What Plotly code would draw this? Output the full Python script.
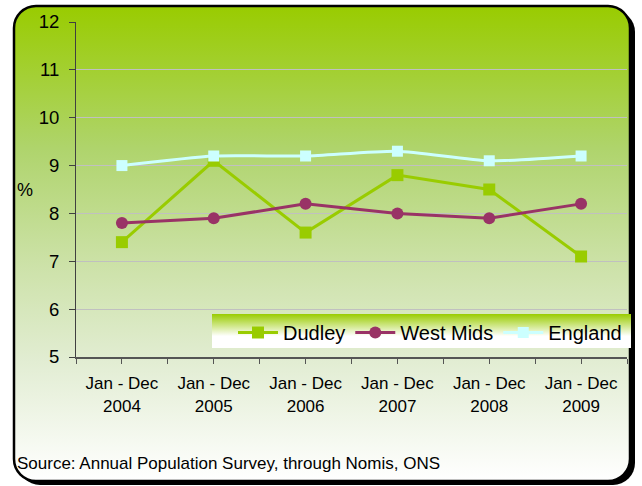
import base64
import plotly.graph_objects as go

# ---- data ----
periods = ["Jan - Dec<br>2004", "Jan - Dec<br>2005", "Jan - Dec<br>2006",
           "Jan - Dec<br>2007", "Jan - Dec<br>2008", "Jan - Dec<br>2009"]
x_pos = [0, 1, 2, 3, 4, 5]
dudley = [7.4, 9.1, 7.6, 8.8, 8.5, 7.1]
west_mids = [7.8, 7.9, 8.2, 8.0, 7.9, 8.2]
england = [9.0, 9.2, 9.2, 9.3, 9.1, 9.2]
y_ticks = [5, 6, 7, 8, 9, 10, 11, 12]
source_text = "Source: Annual Population Survey, through Nomis, ONS"

W, H = 642, 486
ML, MR, MT, MB = 76, 15, 22, 129
PW, PH = W - ML - MR, H - MT - MB

FONT = "Arial, Liberation Sans, sans-serif"


def px_to_paper_x(p):
    return (p - ML) / PW


def px_to_paper_y(p):
    return (H - MB - p) / PH


def svg_uri(svg):
    return "data:image/svg+xml;base64," + base64.b64encode(svg.encode()).decode()


bg_svg = f"""<svg xmlns='http://www.w3.org/2000/svg' width='{W}' height='{H}' viewBox='0 0 {W} {H}'>
<defs><linearGradient id='g' x1='0' y1='0' x2='0' y2='1'>
<stop offset='0' stop-color='#99CC00'/>
<stop offset='0.3' stop-color='#AFD46C'/>
<stop offset='0.55' stop-color='#CDE2A9'/>
<stop offset='0.75' stop-color='#E2EDD3'/>
<stop offset='1' stop-color='#FFFFFF'/>
</linearGradient></defs>
<rect x='18' y='10' width='617' height='475' rx='22' ry='22' fill='#000'/>
<rect x='14' y='6' width='616' height='475' rx='22' ry='22' fill='url(#g)' stroke='#000' stroke-width='2.5'/>
</svg>"""

LG_X0, LG_X1, LG_Y0, LG_Y1 = 212, 631, 314, 348
lg_svg = f"""<svg xmlns='http://www.w3.org/2000/svg' width='{LG_X1-LG_X0}' height='{LG_Y1-LG_Y0}' preserveAspectRatio='none'>
<defs><linearGradient id='h' x1='0' y1='0' x2='0' y2='1'>
<stop offset='0' stop-color='#99CC00'/>
<stop offset='0.65' stop-color='#FFFFFF'/>
<stop offset='1' stop-color='#FFFFFF'/>
</linearGradient></defs>
<rect x='0' y='0' width='{LG_X1-LG_X0}' height='{LG_Y1-LG_Y0}' fill='url(#h)'/>
</svg>"""

fig = go.Figure()
fig.add_trace(go.Scatter(x=x_pos, y=dudley, name="Dudley", mode="lines+markers",
                         line=dict(color="#99CC00", width=3),
                         marker=dict(symbol="square", size=12, color="#99CC00")))
fig.add_trace(go.Scatter(x=x_pos, y=west_mids, name="West Mids", mode="lines+markers",
                         line=dict(color="#993366", width=3),
                         marker=dict(symbol="circle", size=12, color="#993366")))
fig.add_trace(go.Scatter(x=x_pos, y=england, name="England", mode="lines+markers",
                         line=dict(color="#CCFFFF", width=3, shape="spline", smoothing=0.6),
                         marker=dict(symbol="square", size=11, color="#CCFFFF")))

fig.update_layout(
    width=W, height=H,
    margin=dict(l=ML, r=MR, t=MT, b=MB),
    paper_bgcolor="white", plot_bgcolor="rgba(0,0,0,0)",
    font=dict(family=FONT, size=17, color="black"),
    showlegend=True,
    legend=dict(orientation="h", x=1.0, xanchor="right",
                y=px_to_paper_y(LG_Y0 - 1), yanchor="top",
                bgcolor="rgba(0,0,0,0)", font=dict(size=20, family=FONT),
                itemwidth=40, tracegroupgap=0),
    xaxis=dict(range=[-0.5, 5.5], tickvals=x_pos, ticktext=periods,
               showgrid=False, zeroline=False, showline=True, linecolor="#555555", linewidth=2,
               ticks="outside", ticklen=5, tickcolor="#555555", tickwidth=1,
               minor=dict(tick0=-0.5, dtick=1, ticks="outside", ticklen=5, tickcolor="#555555"),
               ticklabelstandoff=5, tickfont=dict(size=17), fixedrange=True),
    yaxis=dict(range=[5, 12], tickvals=y_ticks, showgrid=True, gridcolor="#C0C0C0", gridwidth=1,
               zeroline=False, showline=True, linecolor="#404040", linewidth=1,
               ticks="outside", ticklen=6, tickcolor="#404040",
               ticklabelstandoff=6, tickfont=dict(size=18.5), fixedrange=True),
    images=[
        dict(source=svg_uri(bg_svg), xref="paper", yref="paper",
             x=px_to_paper_x(0), y=px_to_paper_y(0), sizex=W / PW, sizey=H / PH,
             xanchor="left", yanchor="top", sizing="stretch", layer="below"),
        dict(source=svg_uri(lg_svg), xref="paper", yref="paper",
             x=px_to_paper_x(LG_X0), y=px_to_paper_y(LG_Y0),
             sizex=(LG_X1 - LG_X0) / PW, sizey=(LG_Y1 - LG_Y0) / PH,
             xanchor="left", yanchor="top", sizing="stretch", layer="above"),
    ],
    annotations=[
        dict(text="%", xref="paper", yref="paper", x=px_to_paper_x(25), y=px_to_paper_y(190),
             xanchor="center", yanchor="middle", showarrow=False, font=dict(size=18)),
        dict(text=source_text, xref="paper", yref="paper", x=px_to_paper_x(15), y=px_to_paper_y(463),
             xanchor="left", yanchor="middle", showarrow=False, font=dict(size=17)),
    ],
)

fig.write_html("out.html", config={"displayModeBar": False},
               post_script="document.body.style.margin='0';document.body.style.overflow='hidden';")
